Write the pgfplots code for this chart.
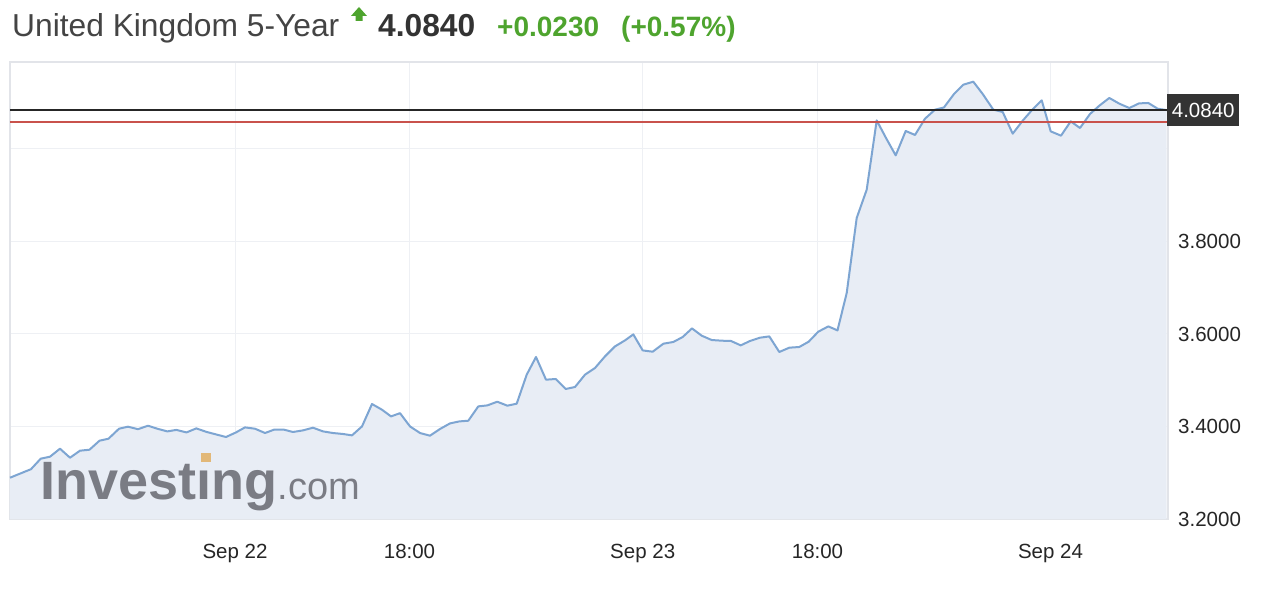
\documentclass[border=0pt]{standalone}
\usepackage{fontspec}
\setmainfont{Liberation Sans}
\usepackage{pgfplots}
\pgfplotsset{compat=1.18}
\definecolor{linec}{RGB}{125,165,210}
\definecolor{fillc}{RGB}{232,237,245}
\definecolor{gridc}{RGB}{238,240,244}
\definecolor{framec}{RGB}{226,228,233}
\definecolor{greenc}{RGB}{78,164,46}
\definecolor{redc}{RGB}{201,82,76}
\definecolor{boxc}{RGB}{51,51,51}
\definecolor{titlec}{RGB}{68,68,68}
\definecolor{wmc}{RGB}{122,124,132}
\definecolor{wmo}{RGB}{226,184,120}
\pgfplotstableread{
x y
10 3.2893
31 3.3077
40.7 3.3304
50 3.3347
60 3.3520
70 3.3325
80 3.3477
89.5 3.3498
99.5 3.3693
108.5 3.3736
119 3.3952
128 3.3996
138 3.3942
148 3.4017
157.3 3.3952
167.3 3.3894
176.3 3.3926
186.5 3.3872
196.3 3.3959
206.5 3.3883
216 3.3829
226 3.3773
236 3.3872
245 3.3981
255 3.3952
265 3.3859
274 3.3931
284 3.3931
293 3.3881
303 3.3916
313 3.3974
323 3.3894
333 3.3859
343 3.3838
352 3.3808
362 3.4002
372 3.4486
382 3.4363
391 3.4218
400 3.4288
410 3.4002
420 3.3859
430 3.3801
440 3.3946
450 3.4067
459.3 3.4110
468.3 3.4125
478.3 3.4435
487.3 3.4456
497.3 3.4536
507.3 3.4450
516.7 3.4493
526.7 3.5120
536 3.5503
546 3.5012
555.7 3.5027
565.7 3.4811
575 3.4854
585 3.5120
595 3.5265
605 3.5516
615 3.5732
625 3.5862
633.3 3.5991
642.7 3.5645
652.7 3.5617
663.3 3.5790
673.3 3.5827
682.7 3.5935
692 3.6121
701.7 3.5963
711.7 3.5870
721.7 3.5855
731 3.5849
740.7 3.5754
750 3.5849
760 3.5920
769.3 3.5948
779.3 3.5611
789.3 3.5704
799.3 3.5719
808.7 3.5834
818.3 3.6050
828.3 3.6164
837.5 3.6078
846.7 3.6886
856.7 3.8508
866.7 3.9120
876.7 4.0618
886 4.0238
895.7 3.9862
905.7 4.0389
915 4.0303
925 4.0655
935 4.0850
944 4.0899
954 4.1189
963.3 4.1390
973.3 4.1455
982.7 4.1189
993.3 4.0850
1002.7 4.0800
1012.7 4.0331
1022.7 4.0612
1032.3 4.0850
1041.7 4.1051
1050.7 4.0381
1061 4.0288
1070.7 4.0597
1080 4.0454
1090 4.0757
1099.3 4.0936
1109.3 4.1103
1119.3 4.0980
1129.3 4.0886
1139 4.0986
1148.3 4.0995
1157.7 4.0871
1166.7 4.0840
}\datatable
\begin{document}
\begin{tikzpicture}[x=1pt,y=1pt]
\useasboundingbox (0,0) rectangle (1270,592);
\fill[white] (0,0) rectangle (1270,592);
\begin{axis}[
  at={(10pt,73pt)}, anchor=south west,
  scale only axis, width=1158pt, height=457pt,
  xmin=10, xmax=1168, ymin=3.2, ymax=4.1881,
  axis line style={draw=framec, line width=1.5pt},
  xtick={235,409.5,642.7,817.5,1050.5},
  xticklabels={Sep 22,18:00,Sep 23,18:00,Sep 24},
  ytick={3.2,3.4,3.6,3.8,4.0},
  yticklabels={3.2000,3.4000,3.6000,3.8000,{}},
  ytick pos=right, xtick pos=bottom,
  major tick length=0pt,
  grid=major, major grid style={draw=gridc, line width=1pt},
  xticklabel style={font=\fontsize{20.5}{24}\selectfont, text=black!85, inner sep=0pt, anchor=north, yshift=-25pt},
  yticklabel style={font=\fontsize{20.5}{24}\selectfont, text=black!85, inner sep=0pt, anchor=west, xshift=10pt},
  clip=false,
]
\addplot[draw=none, fill=fillc] table[x=x,y=y] {\datatable} \closedcycle;
\node[anchor=base west, inner sep=0pt, text=wmc, font=\bfseries\fontsize{54}{60}\selectfont] (inv) at (axis cs:40,3.2417) {Invest{\i}ng};
\node[anchor=base west, inner sep=0pt, text=wmc, font=\fontsize{38}{44}\selectfont] at (inv.base east) {.com};
\fill[wmo] (axis cs:200.5,3.3223) rectangle (axis cs:211,3.3417);
\addplot[draw=linec, line width=2pt, line join=round] table[x=x,y=y] {\datatable};
\addplot[draw=redc, line width=2pt] coordinates {(10,4.0575) (1168,4.0575)};
\addplot[draw=black!85, line width=2pt] coordinates {(10,4.084) (1168,4.084)};
\node[fill=boxc, text=white, anchor=west, inner sep=0pt, minimum width=72pt, minimum height=32pt, font=\fontsize{20.5}{24}\selectfont] at (axis cs:1167,4.084) {4.0840};
\end{axis}
% header
\node[anchor=base west, inner sep=0pt, text=titlec, font=\fontsize{31.75}{36}\selectfont] at (12,555) {United Kingdom 5-Year};
\fill[greenc] (351,576) -- (359,585) -- (367,576) -- (362.5,576) -- (362.5,571) -- (355.5,571) -- (355.5,576) -- cycle;
\node[anchor=base west, inner sep=0pt, text=black!80, font=\bfseries\fontsize{31.75}{36}\selectfont] at (378,555) {4.0840};
\node[anchor=base west, inner sep=0pt, text=greenc, font=\bfseries\fontsize{28}{32}\selectfont] at (497,555) {+0.0230};
\node[anchor=base west, inner sep=0pt, text=greenc, font=\bfseries\fontsize{28}{32}\selectfont] at (621,555) {(+0.57\%)};
\end{tikzpicture}
\end{document}
